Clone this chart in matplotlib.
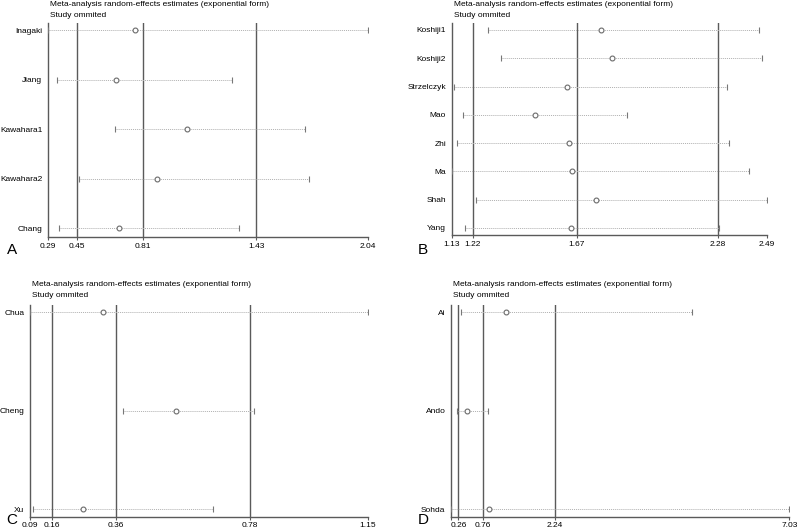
import numpy as np
import matplotlib.pyplot as plt

plt.rcParams['font.family'] = ['Liberation Sans', 'DejaVu Sans']

# panel A
a_names = ["Inagaki", "Jiang", "Kawahara1", "Kawahara2", "Chang"]
a_est = [0.767, 0.660, 1.052, 0.886, 0.677]
a_lo = [0.29, 0.337, 0.656, 0.458, 0.348]
a_hi = [2.04, 1.298, 1.695, 1.716, 1.334]
a_ticks = [0.29, 0.45, 0.81, 1.43, 2.04]

# panel B
b_names = ["Koshiji1", "Koshiji2", "Strzelczyk", "Mao", "Zhi", "Ma", "Shah", "Yang"]
b_est = [1.776, 1.821, 1.627, 1.491, 1.637, 1.651, 1.752, 1.647]
b_lo = [1.285, 1.344, 1.142, 1.179, 1.154, 1.13, 1.234, 1.189]
b_hi = [2.457, 2.470, 2.317, 1.888, 2.329, 2.414, 2.490, 2.284]
b_ticks = [1.13, 1.22, 1.67, 2.28, 2.49]

# panel C
c_names = ["Chua", "Cheng", "Xu"]
c_est = [0.320, 0.548, 0.258]
c_lo = [0.09, 0.381, 0.100]
c_hi = [1.15, 0.794, 0.663]
c_ticks = [0.09, 0.16, 0.36, 0.78, 1.15]

# panel D
d_names = ["Ai", "Ando", "Sohda"]
d_est = [1.238, 0.446, 0.896]
d_lo = [0.310, 0.241, 0.11]
d_hi = [5.04, 0.869, 7.03]
d_ticks = [0.11, 0.26, 0.76, 2.24, 7.03]
d_labels = ["", "0.26", "0.76", "2.24", "7.03"]

fig = plt.figure(figsize=(8, 5.29), dpi=100)


def panel(rect, names, est, lo, hi, ticks, labels, top_px, bot_px):
    ax = fig.add_axes(rect)
    n = len(names)
    y = np.arange(n)
    h_px = rect[3] * 529
    step = (h_px - top_px - bot_px) / (n - 1)
    ax.set_ylim(n - 1 + bot_px / step, -top_px / step)
    ax.set_xlim(ticks[0], ticks[-1])
    for t in ticks[1:4]:
        ax.axvline(t, color='#5a5a5a', lw=1.0, zorder=1)
    for i in range(n):
        ax.plot([lo[i], hi[i]], [y[i], y[i]], color='#b0b0b0', lw=0.7,
                ls=(0, (1, 1)), zorder=2)
        ax.plot([lo[i], hi[i]], [y[i], y[i]], ls='none', marker='|', ms=4,
                mew=0.8, color='#777777', zorder=3)
    ax.plot(est, y, ls='none', marker='o', ms=3.5, mfc='white',
            mec='#6a6a6a', mew=0.8, zorder=4)
    ax.set_yticks(y)
    ax.set_yticklabels(names, fontsize=6)
    ax.tick_params(axis='y', length=0, pad=4)
    ax.set_xticks(ticks)
    ax.set_xticklabels(labels, fontsize=6)
    ax.tick_params(axis='x', length=2.5, width=0.8, color='#5a5a5a', pad=1.5)
    for s in ['top', 'right']:
        ax.spines[s].set_visible(False)
    for s in ['left', 'bottom']:
        ax.spines[s].set_color('#5a5a5a')
        ax.spines[s].set_linewidth(1.0)
    return ax


panel([48 / 800, 1 - 237 / 529, 320 / 800, 214 / 529], a_names, a_est, a_lo, a_hi,
      a_ticks, [f"{t:.2f}" for t in a_ticks], 7, 9)
panel([451.7 / 800, 1 - 235 / 529, 315 / 800, 212 / 529], b_names, b_est, b_lo, b_hi,
      b_ticks, [f"{t:.2f}" for t in b_ticks], 7, 7)
panel([29.7 / 800, 1 - 516.7 / 529, 338.3 / 800, 212 / 529], c_names, c_est, c_lo, c_hi,
      c_ticks, [f"{t:.2f}" for t in c_ticks], 7.3, 7.7)
panel([451 / 800, 1 - 516.7 / 529, 338.3 / 800, 212 / 529], d_names, d_est, d_lo, d_hi,
      d_ticks, d_labels, 7.3, 7.7)

title1 = "Meta-analysis random-effects estimates (exponential form)"
title2 = "Study ommited"
for x, y in [(50, 4.5), (454, 4.5), (31.7, 285), (453.3, 285)]:
    fig.text(x / 800, 1 - y / 529, title1, fontsize=6, va='center', ha='left')
    fig.text(x / 800, 1 - (y + 10.7) / 529, title2, fontsize=6, va='center', ha='left')

for lab, x, y in [("A", 7, 250), ("B", 418, 250), ("C", 6, 520), ("D", 418, 520)]:
    fig.text(x / 800, 1 - y / 529, lab, fontsize=11, va='center', ha='left')

fig.savefig("out.png", dpi=100)
